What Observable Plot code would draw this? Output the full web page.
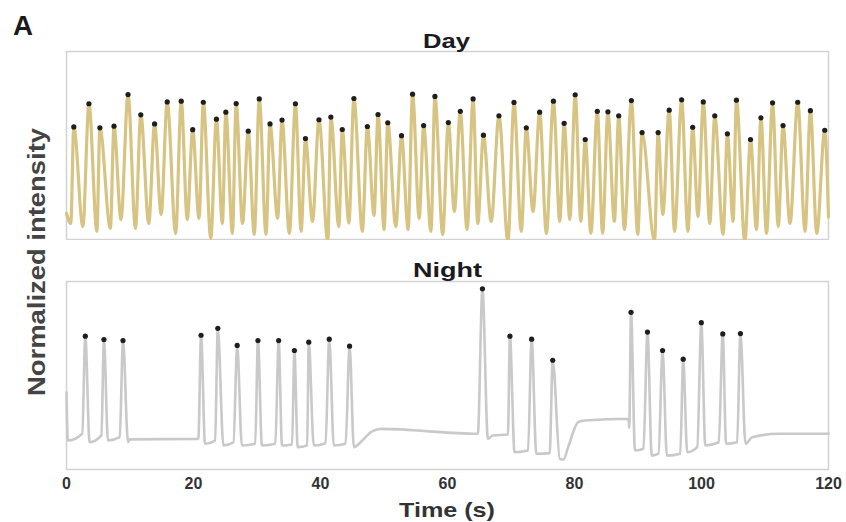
<!DOCTYPE html>
<html>
<head>
<meta charset="utf-8">
<script src="https://cdn.jsdelivr.net/npm/d3@7"></script>
<script src="https://cdn.jsdelivr.net/npm/@observablehq/plot@0.6"></script>
<style>
  body { margin: 0; background: #fff; }
  #fig { position: relative; width: 846px; height: 522px; overflow: hidden; font-family: "Liberation Sans", Arial, sans-serif; }
  #fig > svg, #fig > div { position: absolute; left: 0; }
  #labels { top: 0; pointer-events: none; }
</style>
</head>
<body>
<div id="fig"></div>
<script>
// Time axis ticks (s)
const xTicks = [0, 20, 40, 60, 80, 100, 120];

// Day recording: detected peaks (time in s, normalized intensity)
const dayPeakTime = [1.15, 3.53, 5.26, 7.48, 9.69, 11.70, 13.87, 15.86, 18.07, 19.87, 21.55, 23.61, 25.09, 26.72, 28.62, 30.36, 32.05, 33.94, 36.05, 37.63, 39.76, 41.63, 43.43, 45.26, 47.38, 49.06, 50.59, 52.76, 54.50, 56.24, 58.02, 60.13, 62.02, 64.03, 65.66, 68.10, 70.47, 72.41, 74.51, 76.68, 78.37, 80.11, 81.69, 83.59, 85.26, 86.96, 88.96, 90.64, 93.17, 94.91, 96.87, 98.61, 100.28, 102.09, 104.08, 105.50, 107.72, 109.36, 111.19, 112.84, 115.15, 117.15, 119.41];
const dayPeakValue = [0.599, 0.722, 0.594, 0.603, 0.771, 0.663, 0.615, 0.732, 0.736, 0.584, 0.730, 0.640, 0.677, 0.723, 0.576, 0.748, 0.615, 0.635, 0.722, 0.537, 0.637, 0.651, 0.585, 0.750, 0.601, 0.665, 0.621, 0.552, 0.773, 0.606, 0.761, 0.622, 0.682, 0.748, 0.555, 0.658, 0.729, 0.594, 0.677, 0.736, 0.618, 0.770, 0.532, 0.682, 0.679, 0.658, 0.739, 0.569, 0.569, 0.688, 0.743, 0.597, 0.732, 0.658, 0.562, 0.741, 0.532, 0.647, 0.727, 0.606, 0.730, 0.685, 0.581];
// Day recording: troughs between peaks, plus the trace ends
const dayBaseTime = [0, 0.68, 2.58, 4.79, 6.91, 8.58, 10.86, 12.96, 14.91, 17.19, 19.02, 20.87, 22.72, 24.55, 26.13, 27.72, 29.57, 31.42, 33.25, 35.10, 36.95, 38.74, 41.15, 42.89, 44.47, 46.59, 48.43, 50.02, 51.86, 53.80, 55.54, 57.39, 59.24, 61.08, 63.08, 64.77, 66.88, 69.52, 71.62, 73.47, 75.57, 77.68, 79.26, 81.00, 82.58, 84.43, 86.28, 87.86, 89.96, 92.60, 93.91, 95.76, 97.86, 99.45, 101.30, 103.40, 104.98, 106.83, 108.66, 110.24, 112.09, 113.94, 116.31, 118.15, 120];
const dayBaseValue = [0.138, 0.085, 0.069, 0.043, 0.059, 0.106, 0.059, 0.085, 0.133, 0.032, 0.106, 0.112, 0.005, 0.085, 0.032, 0.085, 0.027, 0.027, 0.112, 0.032, 0.043, 0.096, -0.010, 0.069, 0.087, 0.043, 0.128, 0.053, 0.069, 0.053, 0.112, 0.043, 0.027, 0.149, 0.053, 0.085, 0.096, -0.010, 0.043, 0.149, 0.032, 0.096, 0.106, 0.096, 0.032, 0.032, 0.096, 0.053, 0.027, -0.010, 0.133, 0.043, 0.043, 0.122, 0.085, 0.027, 0.096, -0.010, 0.053, 0.032, 0.069, 0.085, 0.043, 0.032, 0.120];

// Night recording: detected peaks
const nightPeakTime = [2.96, 5.90, 8.90, 21.19, 23.83, 26.88, 30.15, 33.41, 35.89, 38.15, 41.38, 44.58, 65.50, 69.83, 73.25, 76.57, 88.90, 91.49, 93.87, 97.12, 99.97, 103.35, 106.13];
const nightPeakValue = [0.709, 0.691, 0.686, 0.714, 0.751, 0.660, 0.686, 0.686, 0.633, 0.677, 0.693, 0.656, 0.961, 0.709, 0.693, 0.581, 0.836, 0.731, 0.633, 0.587, 0.781, 0.721, 0.723];
// Night recording: baseline between spikes
const nightBaseTime = [0, 0.21, 2.48, 3.64, 5.49, 6.53, 8.38, 9.69, 9.96, 20.76, 21.82, 23.40, 24.71, 26.29, 27.62, 29.72, 30.78, 32.89, 33.94, 35.53, 36.41, 37.90, 38.94, 40.79, 42.10, 43.95, 45.26, 46.32, 47.91, 49.49, 64.78, 66.36, 67.15, 69.52, 70.56, 72.68, 73.99, 76.09, 77.68, 78.26, 79.00, 80.58, 81.63, 88.49, 88.62, 89.53, 90.86, 92.17, 93.23, 94.55, 96.65, 97.75, 99.33, 100.60, 102.72, 103.87, 105.61, 106.93, 107.98, 112.20, 120];
const nightBaseValue = [0.411, 0.154, 0.190, 0.145, 0.181, 0.154, 0.172, 0.145, 0.160, 0.163, 0.137, 0.154, 0.128, 0.145, 0.128, 0.137, 0.128, 0.137, 0.128, 0.133, 0.119, 0.128, 0.128, 0.140, 0.128, 0.137, 0.119, 0.145, 0.198, 0.216, 0.190, 0.163, 0.181, 0.186, 0.092, 0.101, 0.084, 0.087, 0.057, 0.053, 0.119, 0.252, 0.261, 0.270, 0.223, 0.101, 0.110, 0.074, 0.084, 0.074, 0.084, 0.092, 0.119, 0.128, 0.145, 0.137, 0.145, 0.137, 0.172, 0.190, 0.190];

const pairs = (ts, vs) => ts.map((t, i) => ({t, v: vs[i]}));
// Full trace = peaks and in-between points, ordered in time
const traceOf = (pt, pv, bt, bv) => pairs(pt, pv).concat(pairs(bt, bv)).sort((a, b) => a.t - b.t);

const dayPeaks = pairs(dayPeakTime, dayPeakValue);
const dayTrace = traceOf(dayPeakTime, dayPeakValue, dayBaseTime, dayBaseValue);
const nightPeaks = pairs(nightPeakTime, nightPeakValue);
const nightTrace = traceOf(nightPeakTime, nightPeakValue, nightBaseTime, nightBaseValue);

const fig = document.getElementById("fig");
const frameStroke = "#d2d2d2";

function panel(trace, peaks, color, lineWidth, withAxis) {
  return Plot.plot({
    width: 846,
    height: withAxis ? 240 : 190,
    marginLeft: 66,
    marginRight: 18,
    marginTop: 1,
    marginBottom: withAxis ? 51 : 1,
    style: {fontFamily: "'Liberation Sans', Arial, sans-serif", fontSize: "16px", fontWeight: "bold", color: "#333", background: "transparent"},
    x: {domain: [0, 120]},
    y: {domain: [0, 1], axis: null},
    marks: [
      Plot.frame({stroke: frameStroke, strokeWidth: 1.5}),
      Plot.line(trace, {x: "t", y: "v", curve: "monotone-x", stroke: color, strokeWidth: lineWidth, strokeLinejoin: "round", strokeLinecap: "round"}),
      Plot.dot(peaks, {x: "t", y: "v", r: 2.6, fill: "#1e1e1e", stroke: "none"}),
      withAxis
        ? Plot.axisX({ticks: xTicks, tickSize: 0, tickPadding: 8, label: null, tickFormat: d3.format("d")})
        : Plot.axisX({ticks: [], label: null, tickSize: 0})
    ]
  });
}

const day = panel(dayTrace, dayPeaks, "#d7c483", 3.2, false);
day.style.top = "50px";
fig.appendChild(day);

const night = panel(nightTrace, nightPeaks, "#c9c9c9", 2.6, true);
night.style.top = "280px";
fig.appendChild(night);

// Titles and axis labels
const svg = d3.select(fig).append("svg")
  .attr("id", "labels").attr("width", 846).attr("height", 522)
  .style("font-family", "'Liberation Sans', Arial, sans-serif")
  .style("font-weight", "bold");

svg.append("text").attr("x", 13).attr("y", 35).attr("font-size", 27)
  .attr("textLength", 20).attr("lengthAdjust", "spacingAndGlyphs")
  .attr("fill", "#1a1a1a").text("A");
svg.append("text").attr("x", 446.5).attr("y", 48).attr("font-size", 21)
  .attr("text-anchor", "middle").attr("textLength", 47).attr("lengthAdjust", "spacingAndGlyphs")
  .attr("fill", "#1a1a22").text("Day");
svg.append("text").attr("x", 447.5).attr("y", 277).attr("font-size", 21)
  .attr("text-anchor", "middle").attr("textLength", 69).attr("lengthAdjust", "spacingAndGlyphs")
  .attr("fill", "#1a1a22").text("Night");
svg.append("text").attr("transform", "translate(45,262) rotate(-90)").attr("font-size", 23)
  .attr("text-anchor", "middle").attr("textLength", 268).attr("lengthAdjust", "spacingAndGlyphs")
  .attr("fill", "#444").text("Normalized intensity");
svg.append("text").attr("x", 447).attr("y", 517).attr("font-size", 21)
  .attr("text-anchor", "middle").attr("textLength", 96).attr("lengthAdjust", "spacingAndGlyphs")
  .attr("fill", "#333").text("Time (s)");
</script>
</body>
</html>
